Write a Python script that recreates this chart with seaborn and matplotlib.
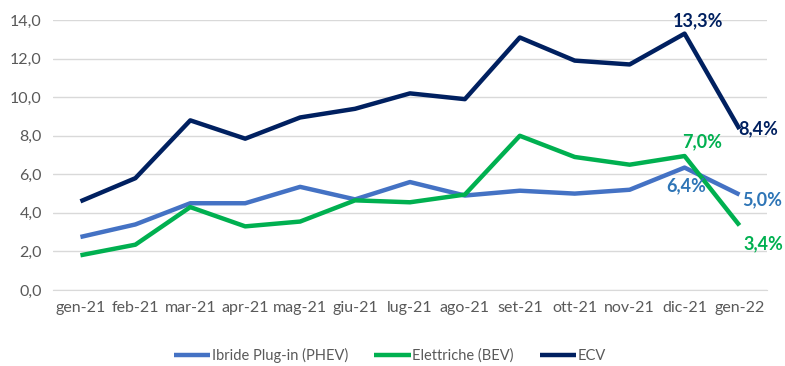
import numpy as np
import matplotlib.pyplot as plt
import matplotlib.ticker as mticker
import seaborn as sns
import pandas as pd

MONTHS = ["gen-21", "feb-21", "mar-21", "apr-21", "mag-21", "giu-21", "lug-21",
          "ago-21", "set-21", "ott-21", "nov-21", "dic-21", "gen-22"]
PHEV = [2.75, 3.4, 4.5, 4.5, 5.35, 4.7, 5.6, 4.9, 5.15, 5.0, 5.2, 6.35, 4.95]
BEV = [1.8, 2.35, 4.3, 3.3, 3.55, 4.65, 4.55, 4.95, 8.0, 6.9, 6.5, 6.95, 3.35]
ECV = [4.6, 5.8, 8.8, 7.85, 8.95, 9.4, 10.2, 9.9, 13.1, 11.9, 11.7, 13.3, 8.35]
SERIES = ["Ibride Plug-in (PHEV)", "Elettriche (BEV)", "ECV"]
LABELS = {
    "ECV": [(11, "13,3%"), (12, "8,4%")],
    "Elettriche (BEV)": [(11, "7,0%"), (12, "3,4%")],
    "Ibride Plug-in (PHEV)": [(11, "6,4%"), (12, "5,0%")],
}
COLORS = {"Ibride Plug-in (PHEV)": "#4472C4", "Elettriche (BEV)": "#00B050", "ECV": "#002060"}
LABEL_COLORS = {"Ibride Plug-in (PHEV)": "#2E75B6", "Elettriche (BEV)": "#00B050", "ECV": "#002060"}
# label offsets in points (dx, dy, ha)
OFFSETS = {
    ("ECV", 11): (10, 9, "center"), ("ECV", 12): (-1, 0, "left"),
    ("Elettriche (BEV)", 11): (13, 10, "center"), ("Elettriche (BEV)", 12): (3, -13, "left"),
    ("Ibride Plug-in (PHEV)", 11): (1, -13, "center"), ("Ibride Plug-in (PHEV)", 12): (2, -4, "left"),
}

df = pd.DataFrame({
    "month": MONTHS * 3,
    "serie": sum([[s] * len(MONTHS) for s in SERIES], []),
    "val": PHEV + BEV + ECV,
})
df["x"] = df["month"].map({m: i for i, m in enumerate(MONTHS)})

sns.set_style("white")
plt.rcParams["font.family"] = ["Lato", "DejaVu Sans"]

fig = plt.figure(figsize=(7.85, 3.66), dpi=100)
ax = fig.add_axes([0.0675, 0.2077, 0.9095, 0.7373])
sns.lineplot(df, x="x", y="val", hue="serie", palette=COLORS, hue_order=SERIES,
             linewidth=3.2, ax=ax, solid_capstyle="butt")

for s in SERIES:
    sub = df[df["serie"] == s]
    for i, txt in LABELS[s]:
        dx, dy, ha = OFFSETS[(s, i)]
        ax.annotate(txt, (i, sub["val"].iloc[i]), xytext=(dx, dy), textcoords="offset points",
                    ha=ha, va="center", fontsize=13, fontweight="bold", color=LABEL_COLORS[s])

ax.set_xlim(-0.5, len(MONTHS) - 0.5)
ax.set_ylim(0, 14)
ax.yaxis.set_major_locator(mticker.MultipleLocator(2))
ax.yaxis.set_major_formatter(mticker.FuncFormatter(lambda v, p: f"{v:.1f}".replace(".", ",")))
ax.set_xticks(range(len(MONTHS)))
ax.set_xticklabels(MONTHS)
ax.set_xticks(np.arange(-0.5, len(MONTHS)), minor=True)
ax.tick_params(axis="x", which="major", length=0, pad=8, labelsize=11.5, labelcolor="#595959")
ax.tick_params(axis="x", which="minor", length=5, color="#D9D9D9", width=1)
ax.tick_params(axis="y", length=0, pad=8, labelsize=11.5, labelcolor="#595959")
ax.grid(axis="y", color="#D9D9D9", linewidth=1)
ax.set_axisbelow(True)
for sp in ["top", "right", "left"]:
    ax.spines[sp].set_visible(False)
ax.spines["bottom"].set_color("#D9D9D9")
ax.set_xlabel("")
ax.set_ylabel("")

ax.legend(loc="upper center", bbox_to_anchor=(0.472, -0.165), ncol=3, frameon=False,
          fontsize=10.5, handlelength=2.5, handletextpad=0.1, columnspacing=1.8,
          labelcolor="#595959")

fig.savefig("out.png", dpi=100)
